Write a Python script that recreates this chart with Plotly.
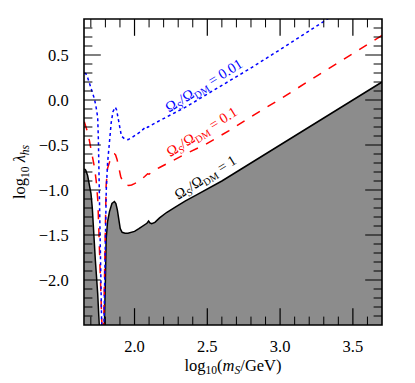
import numpy as np
import plotly.graph_objects as go

# Omega_S / Omega_DM = 1 (upper edge of the grey region)
x_black = [1.655, 1.665, 1.678, 1.690, 1.701, 1.710, 1.717, 1.731, 1.747, 1.754, 1.760, 1.770,
           1.788, 1.795, 1.800, 1.805, 1.815, 1.828, 1.845, 1.862, 1.872, 1.882, 1.892, 1.902,
           1.915, 1.935, 1.955, 1.975, 2.000, 2.030, 2.060, 2.085, 2.097, 2.106, 2.118, 2.140,
           2.172, 2.220, 2.280, 2.350, 2.420, 2.500, 2.600, 2.700, 2.850, 3.000, 3.200, 3.400, 3.700]
y_black = [-0.765, -0.78, -0.84, -0.93, -1.04, -1.20, -1.41, -1.78, -2.15, -2.45, -2.75, -2.9,
           -2.9, -2.5, -2.0, -1.55, -1.35, -1.24, -1.15, -1.128, -1.15, -1.22, -1.33, -1.43,
           -1.47, -1.48, -1.48, -1.47, -1.46, -1.43, -1.40, -1.37, -1.345, -1.365, -1.375, -1.36,
           -1.31, -1.25, -1.19, -1.12, -1.06, -0.99, -0.90, -0.80, -0.65, -0.50, -0.30, -0.10, 0.20]

# Omega_S / Omega_DM = 0.1
x_red = [1.655, 1.665, 1.678, 1.690, 1.705, 1.725, 1.737, 1.748, 1.755, 1.762, 1.768, 1.775,
         1.784, 1.788, 1.795, 1.805, 1.815, 1.828, 1.842, 1.855, 1.862, 1.870, 1.880, 1.892,
         1.905, 1.920, 1.940, 1.960, 1.980, 2.000, 2.034, 2.070, 2.090, 2.100, 2.126, 2.172,
         2.264, 2.350, 2.494, 2.650, 2.816, 3.000, 3.300, 3.700]
y_red = [-0.24, -0.29, -0.36, -0.45, -0.58, -0.75, -0.90, -1.12, -1.45, -1.90, -2.40, -2.9,
         -2.9, -2.5, -1.6, -0.95, -0.76, -0.68, -0.62, -0.60, -0.598, -0.61, -0.66, -0.75,
         -0.85, -0.91, -0.945, -0.95, -0.945, -0.93, -0.90, -0.85, -0.82, -0.825, -0.79, -0.75,
         -0.672, -0.60, -0.487, -0.34, -0.17, 0.01, 0.315, 0.717]

# Omega_S / Omega_DM = 0.01
x_blue = [1.655, 1.667, 1.680, 1.690, 1.701, 1.715, 1.725, 1.736, 1.747, 1.752, 1.757, 1.762,
          1.768, 1.774, 1.780, 1.786, 1.790, 1.800, 1.806, 1.815, 1.828, 1.840, 1.852, 1.862,
          1.868, 1.877, 1.887, 1.897, 1.910, 1.930, 1.955, 1.980, 2.000, 2.034, 2.070, 2.080,
          2.090, 2.103, 2.172, 2.241, 2.350, 2.494, 2.650, 2.791, 3.000, 3.314, 3.700]
y_blue = [0.30, 0.29, 0.24, 0.19, 0.14, 0.06, 0.01, -0.08, -0.19, -0.45, -0.80, -1.30,
          -1.90, -2.45, -2.9, -2.9, -2.5, -1.6, -1.0, -0.70, -0.45, -0.25, -0.13, -0.085,
          -0.08, -0.11, -0.19, -0.30, -0.40, -0.43, -0.44, -0.42, -0.40, -0.36, -0.31, -0.295,
          -0.305, -0.29, -0.23, -0.172, -0.08, 0.06, 0.21, 0.347, 0.56, 0.89, 1.29]

curve_labels = ['Ω<sub><i>S</i></sub>/Ω<sub>DM</sub> = 0.01',
                'Ω<sub><i>S</i></sub>/Ω<sub>DM</sub> = 0.1',
                'Ω<sub><i>S</i></sub>/Ω<sub>DM</sub> = 1']
label_x = [2.48, 2.47, 2.49]
label_y = [0.16, -0.36, -0.87]

x_ticks = [2.0, 2.5, 3.0, 3.5]
y_ticks = [-2.0, -1.5, -1.0, -0.5, 0.0, 0.5]

X_RANGE = [1.653, 3.7]
Y_RANGE = [-2.5, 0.9]

FONT = 'Liberation Serif, Times New Roman, serif'

fig = go.Figure()

# grey excluded region: close the black curve along a floor below the axis
floor = Y_RANGE[0] - 1
fig.add_trace(go.Scatter(
    x=x_black + [x_black[-1], x_black[0]],
    y=y_black + [floor, floor],
    mode='none', fill='toself', fillcolor='#8c8c8c',
    showlegend=False, hoverinfo='skip'
))

fig.add_trace(go.Scatter(x=x_black, y=y_black, mode='lines',
                         line=dict(color='black', width=1.5), showlegend=False))
fig.add_trace(go.Scatter(x=x_red, y=y_red, mode='lines',
                         line=dict(color='#ff0000', width=1.5, dash='dash'), showlegend=False))
fig.add_trace(go.Scatter(x=x_blue, y=y_blue, mode='lines',
                         line=dict(color='#0000ff', width=1.5, dash='dot'), showlegend=False))

for txt, lx, ly, col in zip(curve_labels, label_x, label_y, ['#0000ff', '#ff0000', 'black']):
    fig.add_annotation(x=lx, y=ly, text=txt, showarrow=False, textangle=-32,
                       font=dict(family=FONT, size=14.5, color=col))


# tick marks on all four sides, drawn as line markers sitting on the frame;
# the half outside the plotting area is clipped away so they point inwards
def add_ticks(xs, ys, symbol, size, width):
    fig.add_trace(go.Scatter(
        x=xs, y=ys, mode='markers', cliponaxis=True, showlegend=False, hoverinfo='skip',
        marker=dict(symbol=symbol, size=size, color='black', line=dict(color='black', width=width))
    ))


x_minor = [v for v in np.round(np.arange(1.7, 3.7, 0.1), 1) if v not in x_ticks]
y_minor = [v for v in np.round(np.arange(-2.4, 0.9, 0.1), 1) if v not in y_ticks]

for edge in Y_RANGE:
    add_ticks(x_ticks, [edge] * len(x_ticks), 'line-ns', 24, 1.2)
    add_ticks(x_minor, [edge] * len(x_minor), 'line-ns', 12, 1)
for edge in X_RANGE:
    add_ticks([edge] * len(y_ticks), y_ticks, 'line-ew', 24, 1.2)
    add_ticks([edge] * len(y_minor), y_minor, 'line-ew', 12, 1)

# frame round the plotting area
fig.add_shape(type='rect', xref='paper', yref='paper', x0=0, x1=1, y0=0, y1=1,
              line=dict(color='black', width=1.6), layer='above')

fig.update_layout(
    width=415, height=383,
    margin=dict(l=84, r=33, t=19, b=58),
    plot_bgcolor='white', paper_bgcolor='white',
    font=dict(family=FONT, size=16, color='black'),
    xaxis=dict(
        range=X_RANGE, tickvals=x_ticks, tickformat='.1f',
        showgrid=False, zeroline=False, showline=False,
        ticks='outside', ticklen=6, tickcolor='rgba(0,0,0,0)',
        tickfont=dict(family=FONT, size=16.5),
        title=dict(text='log<sub>10</sub>(<i>m<sub>S</sub></i>/GeV)', standoff=4,
                   font=dict(family=FONT, size=16.5)),
    ),
    yaxis=dict(
        range=Y_RANGE, tickvals=y_ticks, tickformat='.1f',
        showgrid=False, zeroline=False, showline=False,
        ticks='outside', ticklen=11, tickcolor='rgba(0,0,0,0)',
        tickfont=dict(family=FONT, size=16.5),
        title=dict(text='log<sub>10</sub> <i>λ<sub>hs</sub></i>', standoff=8,
                   font=dict(family=FONT, size=16.5)),
    ),
)

fig.write_html("out.html", config={'displayModeBar': False},
               post_script="document.body.style.margin = '0px';")
